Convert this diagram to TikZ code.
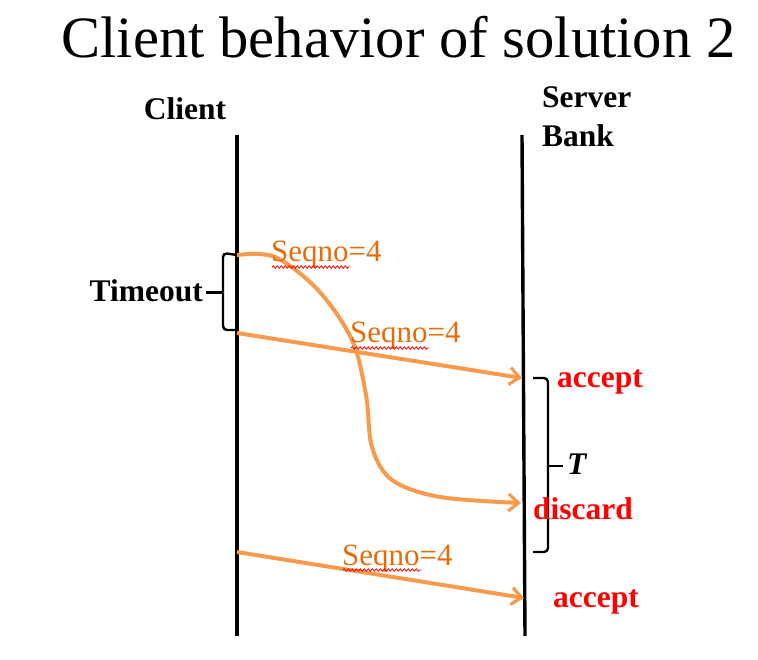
\documentclass[tikz,border=0pt]{standalone}
\usepackage{fontspec}
\setmainfont{Liberation Serif}
\usetikzlibrary{arrows.meta,decorations.pathmorphing}
\definecolor{seqtext}{HTML}{E46C0A}
\definecolor{seqline}{HTML}{F79A4C}
\definecolor{redtext}{HTML}{FF0000}
\tikzset{
  lifeline/.style={line width=3.4pt,black},
  msg/.style={line width=4pt,seqline,-{Straight Barb[length=10pt,width=17pt,line width=3.2pt]}},
  seqlabel/.style={anchor=base west,inner sep=0pt,text=seqtext,font=\fontsize{31}{36}\selectfont},
  squiggle/.style={red,line width=0.8pt,decorate,decoration={snake,segment length=4pt,amplitude=1.2pt}},
  actor/.style={anchor=base,inner sep=0pt,font=\fontsize{31.5}{36}\selectfont\bfseries},
  verdict/.style={anchor=base west,inner sep=0pt,text=redtext,font=\fontsize{31.5}{36}\selectfont\bfseries},
  bracepath/.style={line width=2.4pt,black,rounded corners=4pt}
}
\begin{document}
\begin{tikzpicture}[x=1pt,y=-1pt]
\useasboundingbox (0,0) rectangle (758,660);
% title
\node[anchor=base,inner sep=0pt,font=\fontsize{58.6}{66}\selectfont] (title) at (398.5,58) {Client behavior of solution 2};
% actors
\node[actor] (client) at (185,120) {Client};
\node[actor,anchor=base west] (server) at (542,108) {Server};
\node[actor,anchor=base west] (bank) at (542,147) {Bank};
% lifelines
\coordinate (ctop) at (237,135);
\coordinate (cbot) at (237,636);
\coordinate (stop) at (522,135);
\coordinate (sbot) at (525,636);
\draw[lifeline] (ctop) -- (cbot);
\draw[lifeline] (stop) -- (sbot);
% message end points
\coordinate (c1) at (237,255);
\coordinate (c2) at (237,333);
\coordinate (c3) at (237,552);
\coordinate (s1) at (522,378);
\coordinate (s2) at (521,503);
\coordinate (s3) at (524,598);
% messages
\draw[msg] plot[smooth,tension=0.55] coordinates {(c1) (275,257) (318,290) (352,340) (366,395) (372,447) (392,480) (440,497) (s2)};
\draw[msg] (c2) -- (s1);
\draw[msg] (c3) -- (s3);
% labels
\node[seqlabel] (l1) at (271,262) {Seqno=4};
\draw[squiggle] (272,267) -- (350,267);
\node[seqlabel] (l2) at (350,343) {Seqno=4};
\draw[squiggle] (351,348) -- (429,348);
\node[seqlabel] (l3) at (342,565) {Seqno=4};
\draw[squiggle] (343,570) -- (421,570);
% timeout brace
\draw[bracepath] (c1) -- (223,253) -- (223,292.5);
\draw[bracepath] (c2|-0,330) -- (223,330) -- (223,292.5);
\coordinate (ttip) at (206,292.5);
\draw[line width=2.4pt] (ttip) -- (223,292.5);
\node[actor,anchor=base east] (timeout) at (203,302) {Timeout};
% T brace
\draw[bracepath] (533,378) -- (548,378) -- (548,466);
\draw[bracepath] (533,552) -- (548,552) -- (548,466);
\coordinate (Ttip) at (563,466);
\draw[line width=2.4pt] (548,466) -- (Ttip);
\node[actor,anchor=base west,font=\fontsize{31.5}{36}\selectfont\bfseries\itshape] (T) at (567,474) {T};
% verdicts
\node[verdict] (acc1) at (557,388) {accept};
\node[verdict] (disc) at (533,519) {discard};
\node[verdict] (acc2) at (553,607) {accept};
\end{tikzpicture}
\end{document}
